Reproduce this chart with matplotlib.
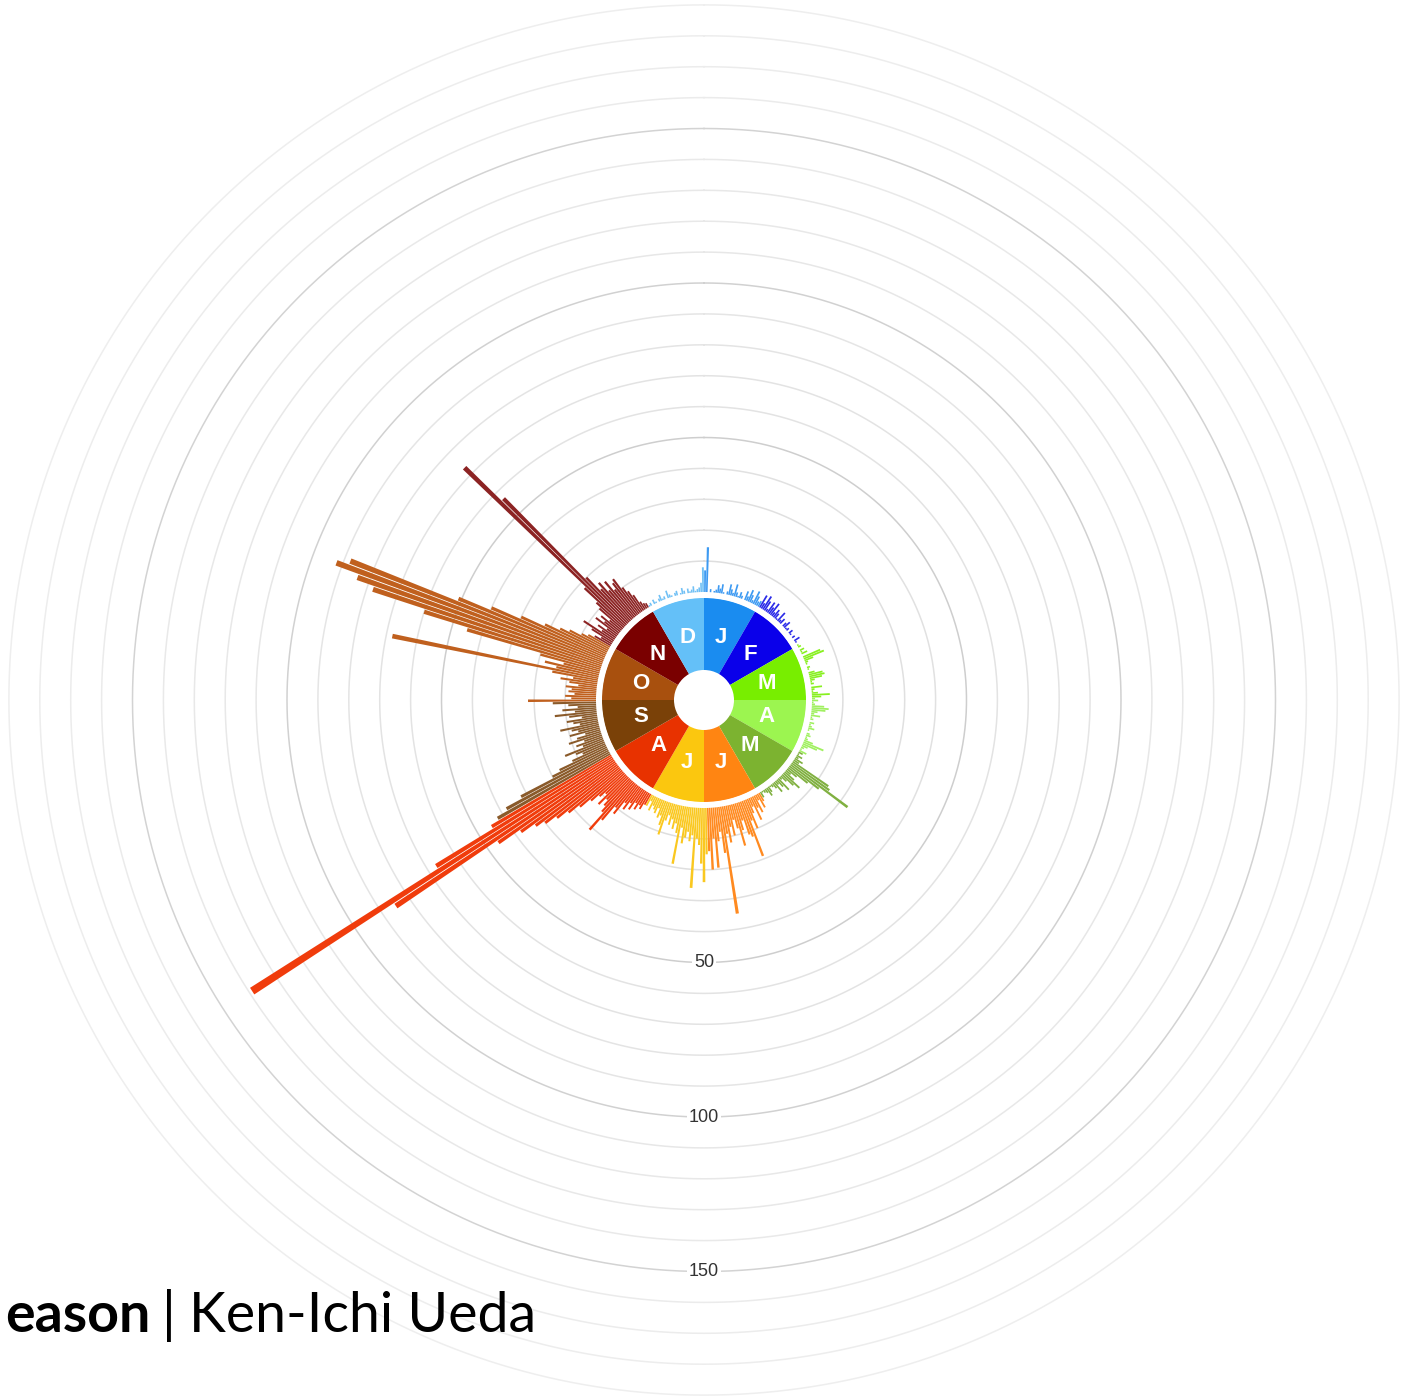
import numpy as np
import matplotlib
matplotlib.use("Agg")
import matplotlib.pyplot as plt

# ---------------- data ----------------
month_letters = ["J", "F", "M", "A", "M", "J", "J", "A", "S", "O", "N", "D"]
month_colors = ["#1a8cf0", "#0a00ea", "#78ee00", "#9cf550", "#7cb330", "#ff8512",
                "#fbc70f", "#e83200", "#7a4108", "#a8500e", "#7a0000", "#64c0f8"]
bar_colors = ["#3d9af2", "#2a2ae8", "#88f020", "#a0f060", "#80b040", "#ff8a20",
              "#fac820", "#f03c0c", "#8a5a2a", "#c0601e", "#8c2323", "#70c0f5"]

jan = [7, 14.5, 0, 1, 0, 0.5, 1, 2.5, 1.5, 3, 0.5, 0, 1, 3.5, 2, 1, 4, 1.5, 0.5, 2,
       1, 0, 3, 1.5, 4, 2.5, 1, 4.5, 3, 1.5, 2]
feb = [4.5, 2, 5, 3.5, 1, 4, 2.5, 4.5, 1.5, 3, 2, 0.5, 3.5, 1, 2, 0, 1.5, 2.5, 0.5, 1,
       0, 1.5, 0.5, 0, 1, 0, 2, 0.5]
mar = [0, 0.5, 1, 0, 1.5, 0.5, 2, 0, 6, 7, 3, 1, 0.5, 0, 1, 0.5, 0, 2, 4.5, 5, 4, 1.5,
       0.5, 1, 0, 3.5, 1, 0.5, 2, 5.8, 3]
apr = [1, 2, 0.5, 1, 4, 5.5, 4.5, 2, 1, 3, 0.5, 1, 0, 1.5, 0.5, 1, 2, 0.5, 0, 1, 1.5,
       0.5, 1, 3, 7, 5, 2, 1, 0.5, 2.5]
may = [1.5, 0.5, 2, 1, 3, 2, 14, 15, 23, 12, 8, 4, 2, 4, 7, 5, 2.5, 1, 5, 3, 1.5, 4, 2,
       1, 0.5, 2, 3, 1.5, 1, 0.5, 2]
jun = [3, 5, 2, 6, 4, 8, 3, 5, 10, 7, 19, 12, 11, 6, 9, 14, 8, 5, 10, 7, 12, 9, 35, 15,
       8, 11, 19.5, 10, 20, 14]
jul = [15, 24, 18, 12, 10, 26, 9, 11, 8, 10, 12, 7, 19, 9, 6, 8, 5, 7, 4, 6, 11, 8, 5,
       6, 3, 5, 4, 3, 5, 2, 4]
aug = [4, 6, 5, 7, 5, 8, 6, 9, 7, 12, 10, 16, 21, 14, 12, 10, 13, 9, 11, 14, 18, 22,
       26, 30, 33, 38, 46, 85, 139, 67, 45]
sep = [42, 38, 32, 20, 17, 12, 8, 10, 13.5, 7, 9, 6, 11, 8, 5, 10, 7, 9, 12.6, 6, 8,
       10, 5, 9, 13.6, 7, 11, 6, 9, 14]
oct_ = [22, 8, 10, 7, 9, 8, 10, 6, 9, 12, 8, 15, 68, 14, 18, 12, 20, 45, 60, 78, 84,
        92, 88, 51, 40, 30, 22, 17, 14, 10, 8]
nov = [6, 4, 8, 11.6, 5, 7, 4, 9, 6, 8, 5, 10, 12, 18, 73, 57, 20, 14, 16, 12, 15, 11,
       13, 14, 10, 8, 6, 3, 2, 1.6]
dec = [0.5, 1, 0, 1.5, 0.5, 0, 1, 2, 0.5, 1, 0, 2.5, 1, 0.5, 0, 1, 1.5, 0, 0.5, 2, 1,
       0, 1.5, 0.5, 1, 2, 0.5, 1, 1.5, 3, 8]

monthly_days = [jan, feb, mar, apr, may, jun, jul, aug, sep, oct_, nov, dec]
grid_values = list(range(10, 200, 10))
scale_labels = [50, 100, 150]

# ---------------- figure ----------------
W, H = 1402, 1397
fig = plt.figure(figsize=(W / 100, H / 100), dpi=100)
cx, cy = 704, 700          # centre in pixels
R = 720                    # axes radius in pixels
PX = 3.09                  # pixels per unit
R0 = 108                   # pixel radius of value 0

ax = fig.add_axes([(cx - R) / W, (H - cy - R) / H, 2 * R / W, 2 * R / H],
                  projection="polar")
ax.set_theta_zero_location("N")
ax.set_theta_direction(-1)
ax.set_ylim(-R0 / PX, (R - R0) / PX)
ax.axis("off")

theta = np.linspace(0, 2 * np.pi, 1441)

# grid circles
for v in grid_values:
    t = min(1.0, v / 190.0)
    if v % 50 == 0:
        g = int(204 + 10 * t)
    else:
        g = int(222 + 16 * t)
    col = "#%02x%02x%02x" % (g, g, g)
    ax.plot(theta, np.full_like(theta, v), color=col, lw=1.1, zorder=0)

# month ring
ring_in = (30 - R0) / PX
ring_out = (102 - R0) / PX
mc = np.deg2rad(np.arange(12) * 30 + 15)
ax.bar(mc, ring_out - ring_in, width=np.deg2rad(30), bottom=ring_in,
       color=month_colors, edgecolor="none", linewidth=0, zorder=2)
ax.plot(theta, np.full_like(theta, (104.5 - R0) / PX), color="white", lw=3, zorder=3)

lab_r = (65 - R0) / PX
for a, L in zip(mc, month_letters):
    ax.text(a, lab_r, L, color="white", fontsize=16, fontweight="bold",
            family="Liberation Sans", ha="center", va="center", zorder=4)

# daily bars
values = np.concatenate([np.asarray(m, dtype=float) for m in monthly_days])
colors = []
for i, m in enumerate(monthly_days):
    colors += [bar_colors[i]] * len(m)
n = len(values)
day_ang = np.deg2rad((np.arange(n) + 0.5) * 360.0 / n)
ax.bar(day_ang, values, width=np.deg2rad(360.0 / n) * 0.85, bottom=0,
       color=colors, edgecolor="none", linewidth=0, zorder=2)

# scale labels
for v in scale_labels:
    ax.text(np.pi, v, str(v), ha="center", va="center", fontsize=13,
            family="Liberation Sans", color="#333333", zorder=5,
            bbox=dict(boxstyle="square,pad=0.12", fc="white", ec="none"))

# title
yb = 1 - 1332 / H
fig.text(5 / W, yb, "eason", fontsize=40, fontweight="bold", family="Lato",
         va="baseline", ha="left", color="black")
fig.text(162 / W, yb, "|", fontsize=40, fontweight="normal", family="Lato",
         va="baseline", ha="left", color="black")
fig.text(189 / W, yb, "Ken-Ichi Ueda", fontsize=40, fontweight="normal", family="Lato",
         va="baseline", ha="left", color="black")

fig.savefig("out.png", dpi=100, facecolor="white")
